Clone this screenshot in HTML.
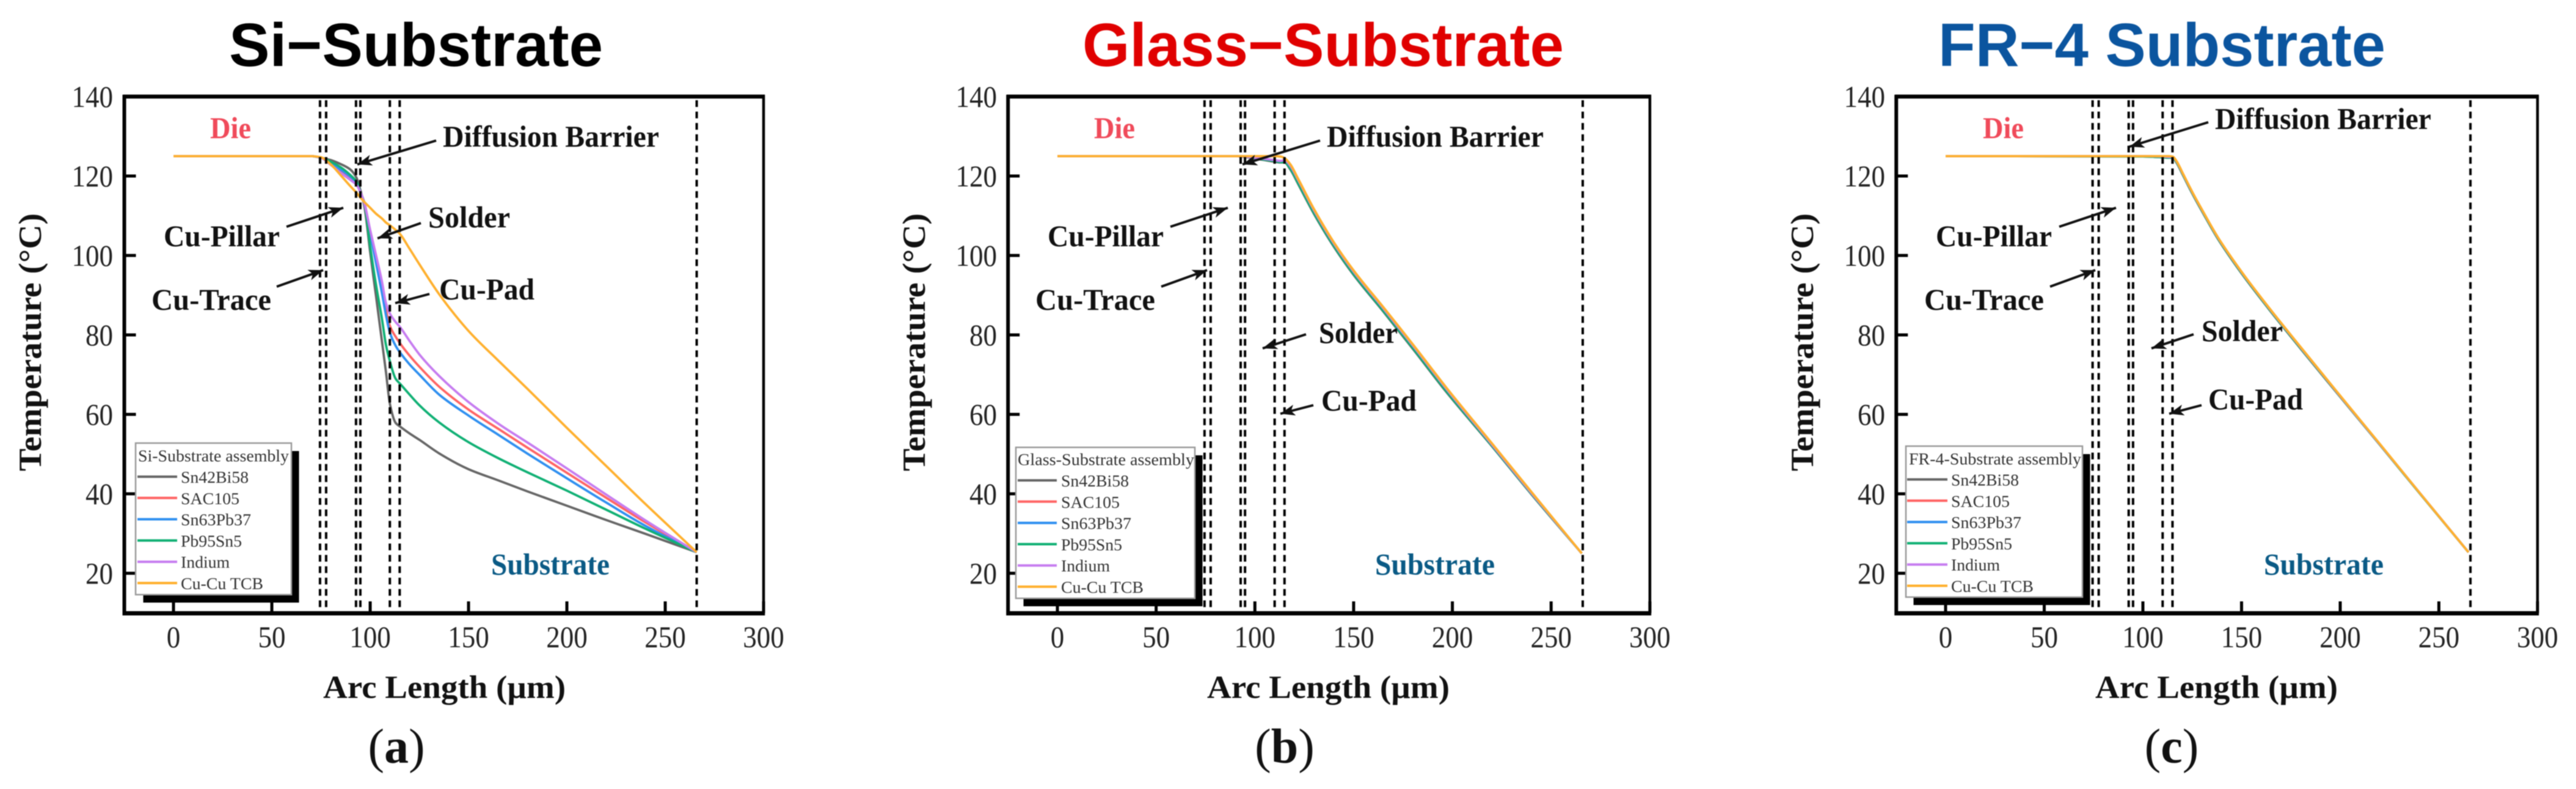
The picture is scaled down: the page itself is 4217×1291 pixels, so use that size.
<!DOCTYPE html>
<html lang="en">
<head>
<meta charset="utf-8">
<title>Temperature along arc length for three substrates</title>
<style>
html,body{margin:0;padding:0;background:#fff;width:4217px;height:1291px;overflow:hidden}
svg{display:block;filter:blur(0.8px)}
text{font-family:"Liberation Serif",serif}
.title{font-family:"Liberation Sans",sans-serif;font-weight:700;font-size:100px}
.note{font-weight:700;font-size:50px;fill:#111}
.axis-title{font-weight:700;font-size:53px;fill:#111}
.tick{font-size:50px;fill:#222}
.panel-tag{font-size:80px;fill:#111}
.panel-tag tspan{font-weight:700}
.legend-title{font-size:27px;fill:#333}
.legend-label{font-size:27px;fill:#333}
.arrow{stroke:#111;stroke-width:4;fill:none;marker-end:url(#arrow-head)}
</style>
</head>
<body>
<svg id="figure" xmlns="http://www.w3.org/2000/svg" width="4217" height="1291" viewBox="0 0 4217 1291">
  <defs>
    <marker id="arrow-head" markerUnits="userSpaceOnUse" markerWidth="28" markerHeight="20" refX="24" refY="9" orient="auto">
      <path d="M0,0 L24,9 L0,18 L6,9 z" fill="#111"></path>
    </marker>
  </defs>
  <rect width="4217" height="1291" fill="#fff"></rect>

  <text class="title" x="375" y="108" textLength="612" lengthAdjust="spacingAndGlyphs" fill="#000">Si−Substrate</text>
  <text class="title" x="1772" y="108" textLength="788" lengthAdjust="spacingAndGlyphs" fill="#e00000">Glass−Substrate</text>
  <text class="title" x="3173" y="108" textLength="732" lengthAdjust="spacingAndGlyphs" fill="#0b559f">FR−4 Substrate</text>

  <g id="panel-si" transform="translate(0,0)"></g>
  <g id="panel-glass" transform="translate(1447,0)"></g>
  <g id="panel-fr4" transform="translate(2901,0)"></g>

  <g id="notes-si">
    <text class="note" x="344" y="226" textLength="67" lengthAdjust="spacingAndGlyphs" style="fill:#f04a5a">Die</text>
    <text class="note" x="725" y="240" textLength="354" lengthAdjust="spacingAndGlyphs">Diffusion Barrier</text>
    <text class="note" x="268" y="403" textLength="190" lengthAdjust="spacingAndGlyphs">Cu-Pillar</text>
    <text class="note" x="248" y="507" textLength="196" lengthAdjust="spacingAndGlyphs">Cu-Trace</text>
    <text class="note" x="701" y="372" textLength="134" lengthAdjust="spacingAndGlyphs">Solder</text>
    <text class="note" x="719" y="490" textLength="156" lengthAdjust="spacingAndGlyphs">Cu-Pad</text>
    <text class="note" x="804" y="940" textLength="194" lengthAdjust="spacingAndGlyphs" style="fill:#0a5a85">Substrate</text>
    <line class="arrow" x1="714" y1="230" x2="585" y2="269"></line>
    <line class="arrow" x1="469" y1="371" x2="562" y2="340"></line>
    <line class="arrow" x1="453" y1="469" x2="529" y2="442"></line>
    <line class="arrow" x1="689" y1="365" x2="618" y2="390"></line>
    <line class="arrow" x1="703" y1="481" x2="647" y2="496"></line>
  </g>

  <g id="notes-glass" transform="translate(1447,0)">
    <text class="note" x="344" y="226" textLength="67" lengthAdjust="spacingAndGlyphs" style="fill:#f04a5a">Die</text>
    <text class="note" x="725" y="240" textLength="355" lengthAdjust="spacingAndGlyphs">Diffusion Barrier</text>
    <text class="note" x="268" y="403" textLength="190" lengthAdjust="spacingAndGlyphs">Cu-Pillar</text>
    <text class="note" x="248" y="507" textLength="196" lengthAdjust="spacingAndGlyphs">Cu-Trace</text>
    <text class="note" x="712" y="561" textLength="129" lengthAdjust="spacingAndGlyphs">Solder</text>
    <text class="note" x="716" y="672" textLength="156" lengthAdjust="spacingAndGlyphs">Cu-Pad</text>
    <text class="note" x="804" y="940" textLength="196" lengthAdjust="spacingAndGlyphs" style="fill:#0a5a85">Substrate</text>
    <line class="arrow" x1="714" y1="230" x2="587" y2="269"></line>
    <line class="arrow" x1="469" y1="371" x2="563" y2="340"></line>
    <line class="arrow" x1="454" y1="469" x2="529" y2="442"></line>
    <line class="arrow" x1="691" y1="547" x2="620" y2="570"></line>
    <line class="arrow" x1="703" y1="663" x2="649" y2="677"></line>
  </g>

  <g id="notes-fr4" transform="translate(2901,0)">
    <text class="note" x="345" y="226" textLength="67" lengthAdjust="spacingAndGlyphs" style="fill:#f04a5a">Die</text>
    <text class="note" x="725" y="211" textLength="354" lengthAdjust="spacingAndGlyphs">Diffusion Barrier</text>
    <text class="note" x="268" y="403" textLength="190" lengthAdjust="spacingAndGlyphs">Cu-Pillar</text>
    <text class="note" x="249" y="507" textLength="196" lengthAdjust="spacingAndGlyphs">Cu-Trace</text>
    <text class="note" x="703" y="558" textLength="133" lengthAdjust="spacingAndGlyphs">Solder</text>
    <text class="note" x="714" y="670" textLength="155" lengthAdjust="spacingAndGlyphs">Cu-Pad</text>
    <text class="note" x="805" y="940" textLength="196" lengthAdjust="spacingAndGlyphs" style="fill:#0a5a85">Substrate</text>
    <line class="arrow" x1="714" y1="200" x2="585" y2="240"></line>
    <line class="arrow" x1="470" y1="371" x2="563" y2="340"></line>
    <line class="arrow" x1="455" y1="469" x2="529" y2="442"></line>
    <line class="arrow" x1="690" y1="547" x2="621" y2="570"></line>
    <line class="arrow" x1="703" y1="663" x2="650" y2="677"></line>
  </g>

  <text class="panel-tag" x="649" y="1248" text-anchor="middle">(<tspan>a</tspan>)</text>
  <text class="panel-tag" x="2103" y="1248" text-anchor="middle">(<tspan>b</tspan>)</text>
  <text class="panel-tag" x="3555" y="1248" text-anchor="middle">(<tspan>c</tspan>)</text>
</svg>

<script>
const xTickValues = [0, 50, 100, 150, 200, 250, 300];
const yTickValues = [20, 40, 60, 80, 100, 120, 140];
const interfaceArc = [74.5, 77.6, 92.8, 95, 110, 115, 266];
const seriesLabels = ['Sn42Bi58', 'SAC105', 'Sn63Pb37', 'Pb95Sn5', 'Indium', 'Cu-Cu TCB'];
const seriesColors = ['#666666', '#ff6464', '#2f8ff0', '#10b074', '#c67cf0', '#ffb02e'];

const siArc = [0, 70, 75, 80, 85, 90, 93, 95, 97, 100, 103, 106, 108, 110, 113, 115, 120, 125, 135, 150, 165, 180, 200, 220, 240, 266];
const siSn42Bi58 = [125, 125, 124.6, 124, 123, 121.6, 119.6, 116.5, 112.5, 100.8, 89.6, 78.3, 70.7, 62.7, 57.8, 57, 55.2, 53.6, 50.2, 46.2, 43.4, 40.6, 37, 33.4, 29.9, 25.3];
const siSAC105 = [125, 125, 124.6, 123, 121.2, 119.4, 118, 116, 113.4, 106, 99.4, 92.8, 86.5, 82.3, 79.5, 78, 74.8, 72, 67, 61.2, 56.4, 51.6, 45.3, 39, 32.8, 25.3];
const siSn63Pb37 = [125, 125, 124.6, 123.2, 121.6, 119.8, 118.4, 116, 113.3, 105.5, 98, 90.5, 85, 80.6, 77.2, 75.7, 72.6, 70, 65, 59.7, 54.9, 50.1, 43.9, 37.8, 31.9, 25.3];
const siPb95Sn5 = [125, 125, 124.6, 123.6, 122.2, 120.2, 118.6, 116, 113.3, 102.3, 92.5, 84, 77.5, 73.4, 68.9, 67.8, 65, 62.3, 58, 53, 49, 45.4, 40.8, 36, 31.2, 25.3];
const siIndium = [125, 125, 124.6, 122.8, 120.8, 119, 117.8, 116, 113.2, 106.4, 100, 93.4, 88, 85.4, 83.2, 82.1, 78.5, 75.1, 69.7, 63.1, 57.7, 52.9, 46.4, 39.8, 33.3, 25.3];
const siCuCu = [125, 125, 124.7, 122.9, 120.2, 117.4, 115.8, 114.6, 113.5, 112, 110.5, 109.3, 108.3, 107.6, 106.4, 105.5, 101.7, 97.8, 90.3, 81, 73.6, 66.4, 56.6, 47, 37.4, 25.3];

const glassArc = [0, 90, 95, 100, 105, 110, 113, 115, 118, 122, 130, 140, 150, 165, 180, 197, 220, 240, 265.5];
const glassSn42Bi58 = [125, 125, 124.8, 124.4, 124, 123.6, 123.4, 123.4, 121.6, 117.9, 110.4, 102.2, 95.1, 85.9, 76.5, 65.6, 52, 39.9, 25];
const glassSAC105 = [125, 125, 124.9, 124.6, 124.2, 123.9, 123.7, 123.9, 122.4, 118.8, 111.2, 102.9, 95.8, 86.6, 77.2, 66.3, 52.4, 40.2, 25];
const glassSn63Pb37 = [125, 125, 124.9, 124.6, 124.2, 123.9, 123.6, 123.8, 122.3, 118.7, 111.1, 102.8, 95.7, 86.5, 77.1, 66.2, 52.3, 40.1, 25];
const glassPb95Sn5 = [125, 125, 124.9, 124.5, 124.1, 123.8, 123.5, 123.5, 121.8, 118.1, 110.6, 102.4, 95.3, 86.1, 76.7, 65.8, 52.1, 40, 25];
const glassIndium = [125, 125, 124.9, 124.6, 124.3, 124, 123.8, 124, 122.5, 118.9, 111.3, 103, 95.9, 86.7, 77.3, 66.4, 52.4, 40.2, 25];
const glassCuCu = [125, 125, 125, 125, 125, 125, 124.9, 124.5, 122.9, 119.2, 111.6, 103.3, 96.2, 87, 77.6, 66.7, 52.7, 40.5, 25];

const fr4Arc = [0, 100, 110, 113, 115, 117, 120, 125, 130, 138, 150, 164, 180, 198, 220, 240, 265];
const fr4Sn42Bi58 = [125, 124.9, 124.7, 124.6, 124.6, 123.4, 120.5, 115.6, 111.1, 104.2, 95.5, 86.4, 76.5, 65.6, 52.4, 40.3, 25.3];
const fr4SAC105 = [125, 125, 124.8, 124.7, 124.7, 123.6, 120.7, 115.8, 111.3, 104.4, 95.7, 86.6, 76.7, 65.8, 52.5, 40.4, 25.3];
const fr4Sn63Pb37 = [125, 125, 124.8, 124.7, 124.7, 123.6, 120.7, 115.8, 111.3, 104.4, 95.7, 86.6, 76.7, 65.8, 52.5, 40.4, 25.3];
const fr4Pb95Sn5 = [125, 124.9, 124.7, 124.6, 124.6, 123.5, 120.6, 115.7, 111.2, 104.3, 95.6, 86.5, 76.6, 65.7, 52.4, 40.3, 25.3];
const fr4Indium = [125, 125, 124.9, 124.8, 124.8, 123.7, 120.8, 115.9, 111.4, 104.5, 95.8, 86.7, 76.8, 65.8, 52.5, 40.4, 25.3];
const fr4CuCu = [125, 125, 125, 125, 124.9, 123.8, 120.9, 116, 111.5, 104.6, 95.9, 86.8, 76.9, 65.9, 52.6, 40.4, 25.3];

const SVG_NS = 'http://www.w3.org/2000/svg';

function make(tag, parent, attrs) {
  const el = document.createElementNS(SVG_NS, tag);
  Object.keys(attrs).forEach(function (k) { el.setAttribute(k, attrs[k]); });
  parent.appendChild(el);
  return el;
}

// Monotone cubic path through screen points, so curves stay smooth without overshoot.
function smoothPath(px, py) {
  const n = px.length;
  const slopes = [];
  for (let i = 0; i < n - 1; i++) slopes.push((py[i + 1] - py[i]) / (px[i + 1] - px[i]));
  const tangents = [slopes[0]];
  for (let i = 1; i < n - 1; i++) {
    if (slopes[i - 1] * slopes[i] <= 0) {
      tangents.push(0);
    } else {
      const h0 = px[i] - px[i - 1], h1 = px[i + 1] - px[i];
      const w0 = 2 * h1 + h0, w1 = h1 + 2 * h0;
      tangents.push((w0 + w1) / (w0 / slopes[i - 1] + w1 / slopes[i]));
    }
  }
  tangents.push(slopes[n - 2]);
  let d = 'M' + px[0].toFixed(1) + ',' + py[0].toFixed(1);
  for (let i = 0; i < n - 1; i++) {
    const h = (px[i + 1] - px[i]) / 3;
    d += 'C' + (px[i] + h).toFixed(1) + ',' + (py[i] + tangents[i] * h).toFixed(1) + ' ' +
      (px[i + 1] - h).toFixed(1) + ',' + (py[i + 1] - tangents[i + 1] * h).toFixed(1) + ' ' +
      px[i + 1].toFixed(1) + ',' + py[i + 1].toFixed(1);
  }
  return d;
}

function drawPanel(rootId, xScale, arc, series) {
  const root = document.getElementById(rootId);
  const x = function (v) { return 284 + v * xScale; };
  const y = function (t) { return 158 + (140 - t) * 6.5; };
  const left = x(-25), right = x(300), top = y(140), bottom = y(10);

  // series curves
  series.forEach(function (values, i) {
    const d = smoothPath(arc.map(x), values.map(y));
    const el = make('path', root, { d: d, fill: 'none', stroke: seriesColors[i], 'stroke-width': 3.8, 'stroke-linejoin': 'round' });
    
    
  });

  // dashed layer boundaries
  interfaceArc.forEach(function (v) {
    const el = make('line', root, { x1: x(v), x2: x(v), y1: top + 6, y2: bottom - 2, stroke: '#000', 'stroke-width': 4, 'stroke-dasharray': '11 7.6' });
    
    
  });

  // frame
  const frameLeft = make('line', root, { x1: left, x2: left, y1: top - 3, y2: bottom + 4, stroke: '#000', 'stroke-width': 6 });
  
  
  const frameRight = make('line', root, { x1: right, x2: right, y1: top - 3, y2: bottom + 4, stroke: '#000', 'stroke-width': 4.5 });
  
  
  const frameTop = make('line', root, { x1: left - 2, x2: right + 2, y1: top, y2: top, stroke: '#000', 'stroke-width': 6.5 });
  
  
  const frameBottom = make('line', root, { x1: left - 2, x2: right + 2, y1: bottom + 0.5, y2: bottom + 0.5, stroke: '#000', 'stroke-width': 7 });
  
  

  // ticks
  xTickValues.forEach(function (v) {
    const mark = make('line', root, { x1: x(v), x2: x(v), y1: bottom, y2: bottom - 19, stroke: '#000', 'stroke-width': 5 });
    
    
    const s = String(v);
    const label = make('text', root, { class: 'tick', x: x(v), y: 1059, 'text-anchor': 'middle', textLength: s.length * 22.5, lengthAdjust: 'spacingAndGlyphs' });
    label.textContent = s;
    
    
  });
  yTickValues.forEach(function (v) {
    const mark = make('line', root, { x1: left, x2: left + 19, y1: y(v), y2: y(v), stroke: '#000', 'stroke-width': 5 });
    
    
    const s = String(v);
    const label = make('text', root, { class: 'tick', x: 185, y: y(v) + 17, 'text-anchor': 'end', textLength: s.length * 22.5, lengthAdjust: 'spacingAndGlyphs' });
    label.textContent = s;
    
    
  });

  // axis titles
  const xTitle = make('text', root, { class: 'axis-title', x: 529, y: 1142, textLength: 397, lengthAdjust: 'spacingAndGlyphs' });
  xTitle.textContent = 'Arc Length (µm)';
  
  
  const yTitle = make('text', root, { class: 'axis-title', transform: 'translate(67,771) rotate(-90)', x: 0, y: 0, textLength: 422, lengthAdjust: 'spacingAndGlyphs' });
  yTitle.textContent = 'Temperature (°C)';
  
  
}

function drawLegend(rootId, titleText, titleLeft, titleWidth, titleBase, box, firstRow, rowGap, lineX1, lineX2, textX) {
  const root = document.getElementById(rootId);
  const group = make('g', root, {});
  
  
  const shadow = make('rect', group, { x: box[0] + 12.5, y: box[1] + 13, width: box[2] - box[0], height: box[3] - box[1], fill: '#000' });
  
  
  const frame = make('rect', group, { x: box[0], y: box[1], width: box[2] - box[0], height: box[3] - box[1], fill: '#fff', stroke: '#9a9a9a', 'stroke-width': 2.5 });
  
  
  const heading = make('text', group, { class: 'legend-title', x: titleLeft, y: titleBase, textLength: titleWidth, lengthAdjust: 'spacingAndGlyphs' });
  heading.textContent = titleText;
  
  
  const widths = [111, 96, 115, 100, 80, 135];
  seriesLabels.forEach(function (name, i) {
    const rowY = firstRow + i * rowGap;
    const sample = make('line', group, { x1: lineX1, x2: lineX2, y1: rowY, y2: rowY, stroke: seriesColors[i], 'stroke-width': 4 });
    
    
    const label = make('text', group, { class: 'legend-label', x: textX, y: rowY + 10, textLength: widths[i], lengthAdjust: 'spacingAndGlyphs' });
    label.textContent = name;
    
    
  });
}

drawPanel('panel-si', 3.22, siArc, [siSn42Bi58, siSAC105, siSn63Pb37, siPb95Sn5, siIndium, siCuCu]);
drawPanel('panel-glass', 3.233, glassArc, [glassSn42Bi58, glassSAC105, glassSn63Pb37, glassPb95Sn5, glassIndium, glassCuCu]);
drawPanel('panel-fr4', 3.23, fr4Arc, [fr4Sn42Bi58, fr4SAC105, fr4Sn63Pb37, fr4Pb95Sn5, fr4Indium, fr4CuCu]);

drawLegend('panel-si', 'Si-Substrate assembly', 226, 247, 755, [222, 725, 477, 973], 780, 34.8, 225, 290, 296);
drawLegend('panel-glass', 'Glass-Substrate assembly', 219, 289, 761, [216, 732, 509, 979], 786, 34.8, 219, 283, 290);
drawLegend('panel-fr4', 'FR-4-Substrate assembly', 224, 282, 760, [219, 730, 508, 977], 784.5, 34.8, 221, 287, 293);
</script>
</body>
</html>
